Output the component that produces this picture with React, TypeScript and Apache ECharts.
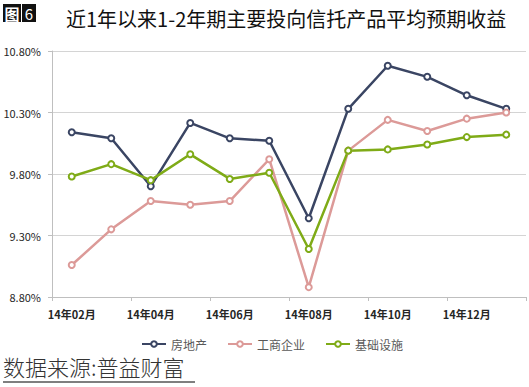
import React, { useEffect, useRef } from "react";
import * as echarts from "echarts";

const categories = [
  "14年02月", "14年03月", "14年04月", "14年05月", "14年06月", "14年07月",
  "14年08月", "14年09月", "14年10月", "14年11月", "14年12月", "15年01月",
];
const realEstate = [10.14, 10.09, 9.70, 10.215, 10.09, 10.07, 9.44, 10.33, 10.68, 10.59, 10.44, 10.33];
const business = [9.06, 9.35, 9.58, 9.55, 9.58, 9.92, 8.88, 9.99, 10.24, 10.15, 10.25, 10.30];
const infra = [9.78, 9.88, 9.75, 9.96, 9.76, 9.81, 9.19, 9.99, 10.00, 10.04, 10.10, 10.12];
const seriesNames = ["房地产", "工商企业", "基础设施"];
const colors = ["#3a4563", "#dc9a98", "#7fab17"];

const FONT = "'Noto Sans CJK SC', 'Noto Sans', sans-serif";

export default function App() {
  const ref = useRef<HTMLDivElement>(null);
  useEffect(() => {
    document.body.style.margin = "0";
    const chart = echarts.init(ref.current!, null, { renderer: "svg" });
    const mk = (name: string, data: number[], color: string) => ({
      name,
      type: "line",
      data,
      symbol: "emptyCircle",
      symbolSize: 6,
      lineStyle: { color, width: 2.5 },
      itemStyle: { color, borderColor: color, borderWidth: 1 },
    });
    chart.setOption({
      animation: false,
      backgroundColor: "#ffffff",
      textStyle: { fontFamily: FONT },
      title: {
        text: "近1年以来1-2年期主要投向信托产品平均预期收益",
        left: 61,
        top: 3,
        textStyle: { fontSize: 20, fontWeight: "normal", color: "#111", fontFamily: FONT },
      },
      graphic: [
        { type: "rect", shape: { x: 3, y: 4, width: 18, height: 18 }, style: { fill: "#111" } },
        { type: "rect", shape: { x: 22, y: 4, width: 14, height: 18 }, style: { fill: "#111" } },
        { type: "text", x: 12, y: 13, style: { text: "图", fill: "#fff", font: `bold 15px ${FONT}`, align: "center", verticalAlign: "middle" } },
        { type: "text", x: 29, y: 13, style: { text: "6", fill: "#fff", font: `15px ${FONT}`, align: "center", verticalAlign: "middle" } },
        { type: "text", x: 3, y: 366, style: { text: "数据来源:普益财富", fill: "#333", font: `300 22px ${FONT}`, verticalAlign: "middle" } },
        { type: "line", shape: { x1: 3, y1: 382, x2: 195, y2: 382 }, style: { stroke: "#555", lineWidth: 1.5 } },
      ],
      legend: {
        data: seriesNames,
        left: 136,
        top: 333,
        itemWidth: 24,
        itemHeight: 7,
        itemGap: 20,
        textStyle: { fontSize: 12, color: "#595959", fontFamily: FONT },
      },
      grid: { left: 52, right: 3, top: 51, bottom: 90 },
      xAxis: {
        type: "category",
        data: categories,
        boundaryGap: true,
        axisLine: { lineStyle: { color: "#bfbfbf", width: 1 } },
        axisTick: { show: true, interval: 1, length: 4, lineStyle: { color: "#bfbfbf" } },
        axisLabel: { interval: 1, margin: 11, fontSize: 11, fontWeight: "bold", color: "#262626", fontFamily: FONT },
        splitLine: { show: false },
      },
      yAxis: {
        type: "value",
        min: 8.8,
        max: 10.8,
        interval: 0.5,
        axisLine: { show: true, lineStyle: { color: "#bfbfbf" } },
        axisTick: { show: true, length: 4, lineStyle: { color: "#bfbfbf" } },
        axisLabel: {
          margin: 11,
          fontSize: 11,
          color: "#262626",
          fontFamily: FONT,
          formatter: (v: number) => v.toFixed(2) + "%",
        },
        splitLine: { lineStyle: { color: "#d4d4d4", width: 1 } },
      },
      series: [
        mk(seriesNames[0], realEstate, colors[0]),
        mk(seriesNames[1], business, colors[1]),
        mk(seriesNames[2], infra, colors[2]),
      ],
    });
    return () => chart.dispose();
  }, []);
  return <div ref={ref} style={{ width: 529, height: 387 }} />;
}
